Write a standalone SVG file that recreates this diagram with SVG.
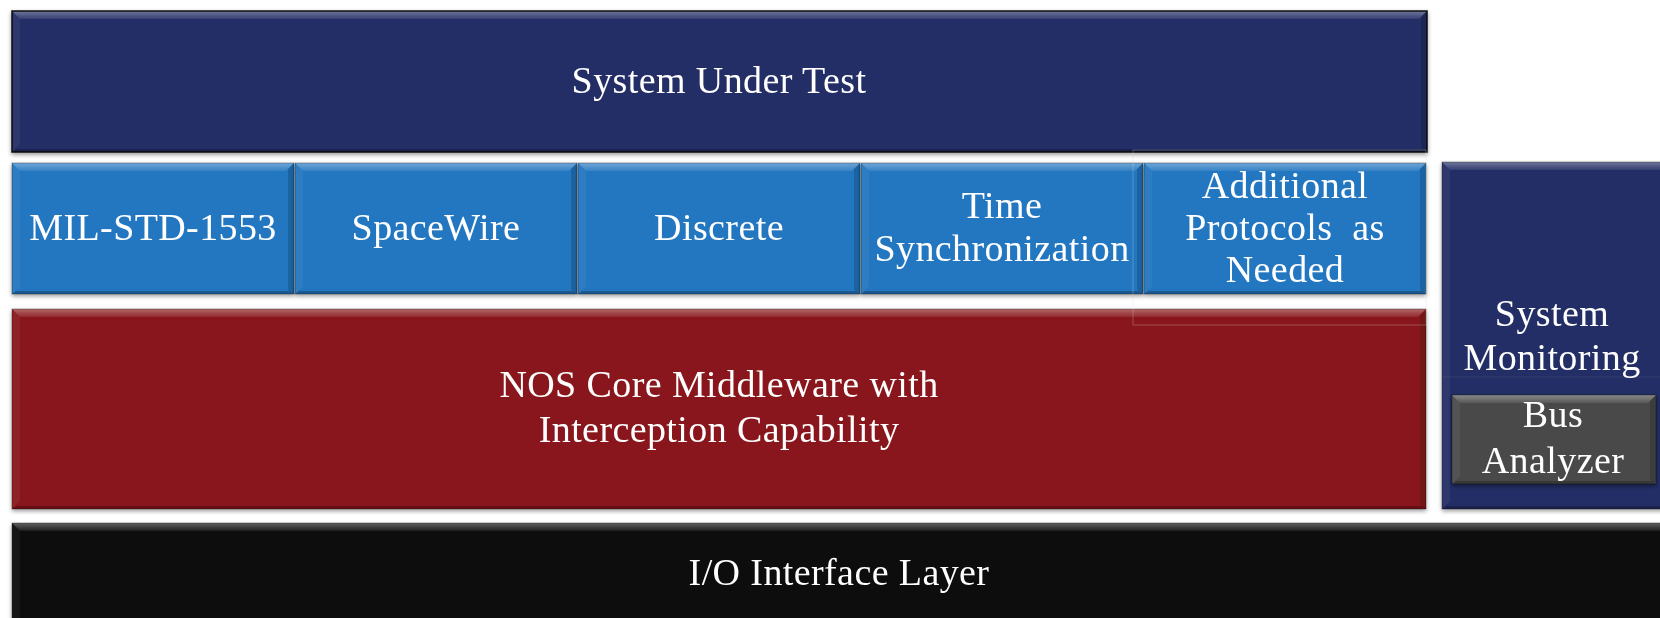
<svg xmlns="http://www.w3.org/2000/svg" width="1660" height="618" viewBox="0 0 1660 618">
<defs>
<style>
.t{font-family:"Liberation Serif","Times New Roman",serif;font-size:38px;letter-spacing:0.4px;fill:#ffffff;text-anchor:middle}
.navy{fill:#232E65}
.blue{fill:#2477C0}
.red{fill:#89161A}
.black{fill:#0A0A0A}
.gray{fill:#4A4A4A}
.top{fill:url(#topHl)}
.left{fill:#ffffff;fill-opacity:0.05}
.right{fill:#000000;fill-opacity:0.16}
.bot{fill:#000000;fill-opacity:0.25}
.edge{fill:none;stroke:#000;stroke-opacity:0.3;stroke-width:1}
</style>
<linearGradient id="topHl" x1="0" y1="0" x2="0" y2="1">
<stop offset="0" stop-color="#ffffff" stop-opacity="0.35"/>
<stop offset="1" stop-color="#ffffff" stop-opacity="0.08"/>
</linearGradient>
<filter id="sh" x="-5%" y="-10%" width="110%" height="130%">
<feDropShadow dx="0" dy="2" stdDeviation="2" flood-color="#000" flood-opacity="0.4"/>
</filter>
</defs>
<rect width="1660" height="618" fill="#ffffff"/>

<g id="system-under-test" filter="url(#sh)">
<rect class="navy" x="12" y="11" width="1415" height="141"/>
<polygon class="top" points="12,11 1427,11 1419,19 20,19"/>
<polygon class="left" points="12,11 20,19 20,144 12,152"/>
<polygon class="right" points="1427,11 1421,17 1421,148 1427,152"/>
<polygon class="bot" points="12,152 16,149 1423,149 1427,152"/>
<rect x="12" y="11" width="1415" height="141" fill="none" stroke="#0b0b0b" stroke-width="1.5"/>
<text class="t" x="719" y="93">System Under Test</text>
</g>

<g id="mil-std-1553" filter="url(#sh)">
<rect class="blue" x="12" y="163" width="282" height="131"/>
<polygon class="top" points="12,163 294,163 286,171 20,171"/>
<polygon class="left" points="12,163 20,171 20,286 12,294"/>
<polygon class="right" points="294,163 288,169 288,290 294,294"/>
<polygon class="bot" points="12,294 16,291 290,291 294,294"/>
<rect class="edge" x="12" y="163" width="282" height="131"/>
<text class="t" x="153" y="240">MIL-STD-1553</text>
</g>

<g id="spacewire" filter="url(#sh)">
<rect class="blue" x="295" y="163" width="282" height="131"/>
<polygon class="top" points="295,163 577,163 569,171 303,171"/>
<polygon class="left" points="295,163 303,171 303,286 295,294"/>
<polygon class="right" points="577,163 571,169 571,290 577,294"/>
<polygon class="bot" points="295,294 299,291 573,291 577,294"/>
<rect class="edge" x="295" y="163" width="282" height="131"/>
<text class="t" x="436" y="240">SpaceWire</text>
</g>

<g id="discrete" filter="url(#sh)">
<rect class="blue" x="578" y="163" width="282" height="131"/>
<polygon class="top" points="578,163 860,163 852,171 586,171"/>
<polygon class="left" points="578,163 586,171 586,286 578,294"/>
<polygon class="right" points="860,163 854,169 854,290 860,294"/>
<polygon class="bot" points="578,294 582,291 856,291 860,294"/>
<rect class="edge" x="578" y="163" width="282" height="131"/>
<text class="t" x="719" y="240">Discrete</text>
</g>

<g id="time-synchronization" filter="url(#sh)">
<rect class="blue" x="861" y="163" width="282" height="131"/>
<polygon class="top" points="861,163 1143,163 1135,171 869,171"/>
<polygon class="left" points="861,163 869,171 869,286 861,294"/>
<polygon class="right" points="1143,163 1137,169 1137,290 1143,294"/>
<polygon class="bot" points="861,294 865,291 1139,291 1143,294"/>
<rect class="edge" x="861" y="163" width="282" height="131"/>
<text class="t" x="1002" y="218">Time</text>
<text class="t" x="1002" y="261">Synchronization</text>
</g>

<g id="additional-protocols" filter="url(#sh)">
<rect class="blue" x="1144" y="163" width="282" height="131"/>
<polygon class="top" points="1144,163 1426,163 1418,171 1152,171"/>
<polygon class="left" points="1144,163 1152,171 1152,286 1144,294"/>
<polygon class="right" points="1426,163 1420,169 1420,290 1426,294"/>
<polygon class="bot" points="1144,294 1148,291 1422,291 1426,294"/>
<rect class="edge" x="1144" y="163" width="282" height="131"/>
<text class="t" x="1285" y="198">Additional</text>
<text class="t" x="1285" y="240" xml:space="preserve">Protocols  as</text>
<text class="t" x="1285" y="282">Needed</text>
</g>

<g id="nos-core-middleware" filter="url(#sh)">
<rect class="red" x="12" y="309" width="1414" height="200"/>
<polygon class="top" points="12,309 1426,309 1418,317 20,317"/>
<polygon class="left" points="12,309 20,317 20,501 12,509"/>
<polygon class="right" points="1426,309 1420,315 1420,505 1426,509"/>
<polygon class="bot" points="12,509 16,506 1422,506 1426,509"/>
<rect class="edge" x="12" y="309" width="1414" height="200"/>
<text class="t" x="719" y="397">NOS Core Middleware with</text>
<text class="t" x="719" y="442">Interception Capability</text>
</g>

<g id="system-monitoring" filter="url(#sh)">
<rect class="navy" x="1442" y="162" width="230" height="347"/>
<polygon class="top" points="1442,162 1672,162 1664,170 1450,170"/>
<polygon class="left" points="1442,162 1450,170 1450,501 1442,509"/>
<polygon class="bot" points="1442,509 1446,506 1672,506 1672,509"/>
<rect class="edge" x="1442" y="162" width="230" height="347"/>
<line x1="1442" y1="377" x2="1660" y2="377" stroke="#ffffff" stroke-opacity="0.08" stroke-width="1"/>
<text class="t" x="1552" y="326">System</text>
<text class="t" x="1552" y="370">Monitoring</text>
</g>

<g id="bus-analyzer" filter="url(#sh)">
<rect class="gray" x="1452" y="395" width="204" height="89"/>
<polygon class="top" points="1452,395 1656,395 1648,403 1460,403"/>
<polygon class="left" points="1452,395 1460,403 1460,476 1452,484"/>
<polygon class="right" points="1656,395 1650,401 1650,480 1656,484"/>
<polygon class="bot" points="1452,484 1456,481 1652,481 1656,484"/>
<rect class="edge" x="1452" y="395" width="204" height="89"/>
<text class="t" x="1553" y="427">Bus</text>
<text class="t" x="1553" y="473">Analyzer</text>
</g>

<g id="io-interface-layer" filter="url(#sh)">
<rect class="black" x="12" y="523" width="1660" height="100"/>
<polygon class="top" points="12,523 1672,523 1664,531 20,531"/>
<polygon class="left" points="12,523 20,531 20,618 12,618"/>
<rect class="edge" x="12" y="523" width="1660" height="100"/>
<text class="t" x="839" y="585">I/O Interface Layer</text>
</g>

<g id="connectors"></g>

<rect x="1133" y="150" width="293" height="175" fill="none" stroke="#d8d8d8" stroke-opacity="0.3" stroke-width="1"/>
</svg>
